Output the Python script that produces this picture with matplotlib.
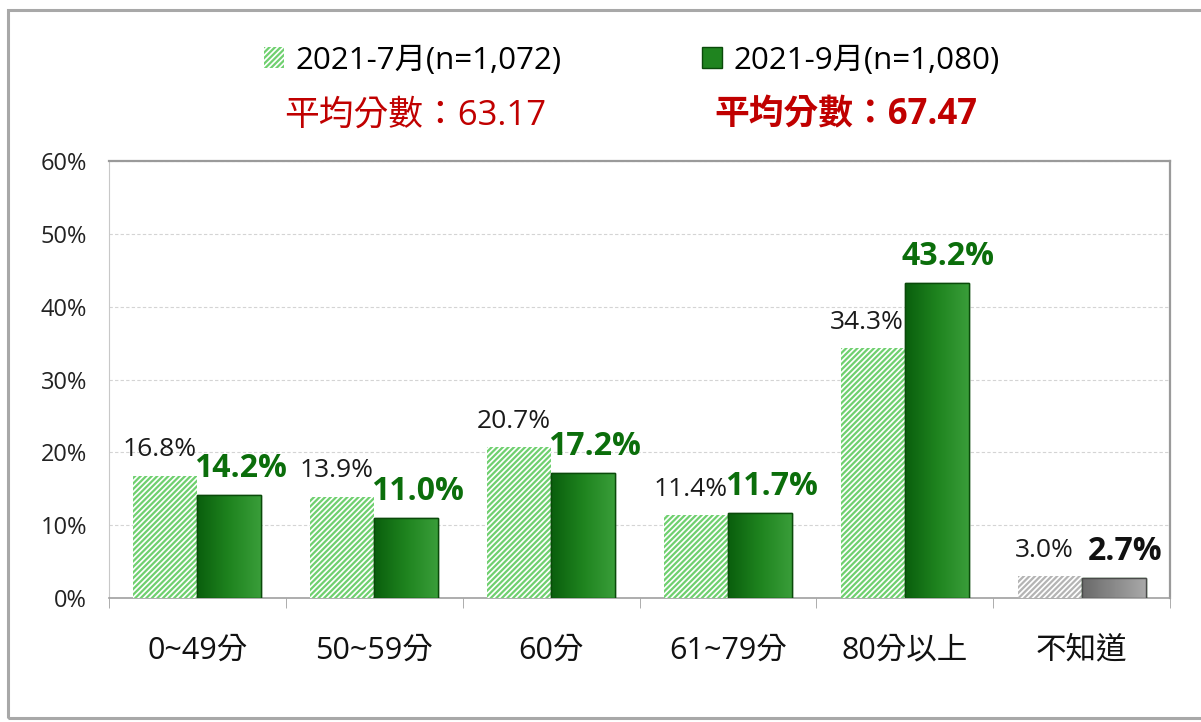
import numpy as np
import matplotlib
matplotlib.use("Agg")
import matplotlib.pyplot as plt
from matplotlib.patches import Rectangle, Patch
from matplotlib.colors import LinearSegmentedColormap

plt.rcParams['font.family'] = ['Open Sans', 'Noto Sans CJK TC', 'DejaVu Sans']
plt.rcParams['hatch.linewidth'] = 1.6

# data
categories = ['0~49分', '50~59分', '60分', '61~79分', '80分以上', '不知道']
jul_vals = [16.8, 13.9, 20.7, 11.4, 34.3, 3.0]
sep_vals = [14.2, 11.0, 17.2, 11.7, 43.2, 2.7]
series_names = ['2021-7月(n=1,072)', '2021-9月(n=1,080)']
avg_texts = ['平均分數：63.17', '平均分數：67.47']

green_hatch = '#6fd06f'
gray_hatch = '#b4b4b4'
label_green = '#0b6e0b'
red = '#c00000'

green_cmap = LinearSegmentedColormap.from_list('g', ['#0a5f0d', '#1f841f', '#3a9e3a'])
gray_cmap = LinearSegmentedColormap.from_list('k', ['#6a6a6a', '#8a8a8a', '#a9a9a9'])

fig = plt.figure(figsize=(12.01, 7.22), dpi=100)
ax = fig.add_axes([0.0908, 0.1717, 0.8834, 0.6053])

x = np.arange(len(categories))
w = 0.362

hatch_colors = [green_hatch] * 5 + [gray_hatch]
bars_jul = ax.bar(x - w / 2, jul_vals, w, color='white', edgecolor=hatch_colors,
                  linewidth=0, hatch='//////', zorder=3)
bars_sep = ax.bar(x + w / 2, sep_vals, w, color='#1f841f', edgecolor='#0a4a0a',
                  linewidth=1.0, zorder=3)

# gradient fill on solid bars
grad = np.linspace(0, 1, 64).reshape(1, -1)
for i, b in enumerate(bars_sep):
    cmap = gray_cmap if i == 5 else green_cmap
    x0 = b.get_x()
    im = ax.imshow(grad, cmap=cmap, aspect='auto', zorder=3.5,
                   extent=(x0, x0 + b.get_width(), 0, b.get_height()))
    im.set_clip_path(b)
    edge = '#4a4a4a' if i == 5 else '#0a4a0a'
    ax.add_patch(Rectangle((x0, 0), b.get_width(), b.get_height(), fill=False,
                           edgecolor=edge, linewidth=1.0, zorder=4))

ax.set_xlim(-0.5, len(categories) - 0.5)
ax.set_ylim(0, 60)

# data labels
for i, b in enumerate(bars_jul):
    ax.annotate(f'{jul_vals[i]:.1f}%', (b.get_x() + b.get_width() / 2, b.get_height()),
                xytext=(-4, 14), textcoords='offset points', ha='center', va='baseline',
                fontsize=19, color='#1a1a1a', zorder=5)
for i, b in enumerate(bars_sep):
    col = '#111111' if i == 5 else label_green
    ax.annotate(f'{sep_vals[i]:.1f}%', (b.get_x() + b.get_width() / 2, b.get_height()),
                xytext=(8, 13), textcoords='offset points', ha='center', va='baseline',
                fontsize=23, fontweight='bold', color=col, zorder=5)

# axes styling
ax.set_yticks(np.arange(0, 61, 10))
ax.set_yticklabels([f'{v}%' for v in range(0, 61, 10)], fontsize=17, color='#222222')
ax.tick_params(axis='y', length=0, pad=16)
ax.set_xticks(x)
ax.set_xticklabels(categories, fontsize=22, color='#111111')
ax.set_xticks(np.arange(-0.5, len(categories) + 0.5, 1), minor=True)
ax.tick_params(axis='x', which='major', length=0, pad=27)
ax.tick_params(axis='x', which='minor', length=7, color='#a0a0a0', direction='out')
ax.yaxis.grid(True, color='#d4d4d4', linestyle=(0, (3, 2)), linewidth=0.8, zorder=0)
ax.set_axisbelow(True)
for s in ['top', 'right']:
    ax.spines[s].set_color('#9a9a9a')
    ax.spines[s].set_linewidth(1.6)
ax.spines['left'].set_color('#c8c8c8')
ax.spines['bottom'].set_color('#a0a0a0')
ax.spines['bottom'].set_linewidth(1.2)

# legend
handles = [Patch(facecolor='white', edgecolor=green_hatch, hatch='//////', linewidth=0),
           Patch(facecolor='#1f841f', edgecolor='#0a4a0a', linewidth=1.0)]
fig.legend(handles, series_names, loc='center', bbox_to_anchor=(0.526, 0.916), ncol=2,
           frameon=False, fontsize=22.5, handlelength=0.65, handleheight=0.65,
           handletextpad=0.35, columnspacing=4.5)

fig.text(0.346, 0.840, avg_texts[0], color=red, fontsize=25, ha='center', va='center')
fig.text(0.704, 0.840, avg_texts[1], color=red, fontsize=25, ha='center', va='center',
         fontweight='bold')

# outer frame
fig.patches.append(Rectangle((0.0067, 0.0055), 1.1, 0.98, transform=fig.transFigure,
                             fill=False, edgecolor='#a8a8a8', linewidth=2.2))

fig.savefig('out.png', dpi=100)
